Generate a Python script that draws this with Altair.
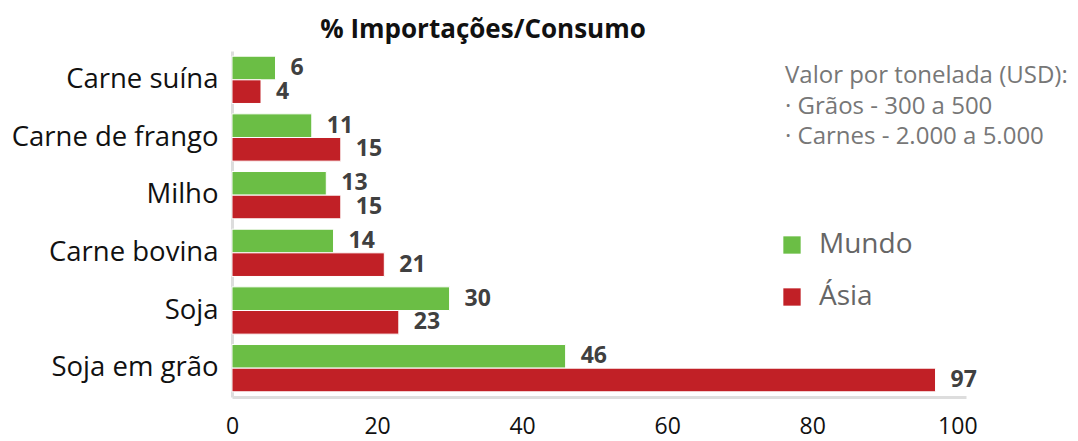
import altair as alt
import pandas as pd

categories = ["Carne suína", "Carne de frango", "Milho", "Carne bovina", "Soja", "Soja em grão"]
series = ["Mundo", "Ásia"]
mundo = [6, 11, 13, 14, 30, 46]
asia = [4, 15, 15, 21, 23, 97]
x_ticks = [0, 20, 40, 60, 80, 100]
note_lines = ["Valor por tonelada (USD):", "·  Grãos  - 300 a 500", "·  Carnes - 2.000 a 5.000"]

rows = []
for c, m, a in zip(categories, mundo, asia):
    rows.append({"cat": c, "series": "Mundo", "value": m})
    rows.append({"cat": c, "series": "Ásia", "value": a})
df = pd.DataFrame(rows)

FONT = "Open Sans"

base = alt.Chart(df).encode(
    y=alt.Y(
        "cat:N",
        sort=categories,
        scale=alt.Scale(paddingInner=0.18, paddingOuter=0.09),
        axis=alt.Axis(
            title=None, ticks=False, labelFontSize=27.5, labelColor="#111111",
            labelFont=FONT, labelPadding=14, labelLimit=0,
            domainColor="#dddddd", domainWidth=3,
        ),
    ),
    yOffset=alt.YOffset("series:N", sort=series),
    x=alt.X(
        "value:Q",
        scale=alt.Scale(domain=[0, 101.2], nice=False),
        axis=alt.Axis(
            title=None, values=x_ticks, grid=False, ticks=False, labelFontSize=23,
            labelColor="#111111", labelFont=FONT, labelPadding=18,
            domainColor="#dddddd", domainWidth=3, labelFlush=False,
        ),
    ),
)

bars = base.mark_bar(stroke="white", strokeWidth=1).encode(
    color=alt.Color(
        "series:N",
        sort=series,
        scale=alt.Scale(domain=series, range=["#6BBE45", "#C12026"]),
        legend=alt.Legend(
            title=None, orient="none", legendX=546, legendY=180,
            symbolType="square", symbolSize=300, symbolStrokeWidth=0,
            labelFontSize=28, labelColor="#666666", labelFont=FONT,
            labelOffset=13, rowPadding=24,
        ),
    )
)

labels = base.mark_text(
    align="left", baseline="middle", dx=15, fontSize=23, fontWeight="bold",
    color="#404040", font=FONT,
).encode(text="value:Q")

note = alt.Chart(pd.DataFrame({"t": [0]})).mark_text(
    align="left", baseline="middle", fontSize=24, color="#777777", font=FONT,
    lineHeight=30.5,
).encode(x=alt.value(553), y=alt.value(25), text=alt.value(note_lines))

chart = alt.layer(bars, labels, note).properties(
    width=734,
    height=346,
    title=alt.TitleParams(
        "% Importações/Consumo", fontSize=26, fontWeight="bold", font=FONT,
        color="#111111", anchor="middle", dx=-116, offset=8,
    ),
    autosize=alt.AutoSizeParams(type="none"),
    padding={"left": 224, "top": 43, "right": 104, "bottom": 46},
).configure_view(stroke=None)

chart.save("out.html", embed_options={"renderer": "svg", "actions": False})
